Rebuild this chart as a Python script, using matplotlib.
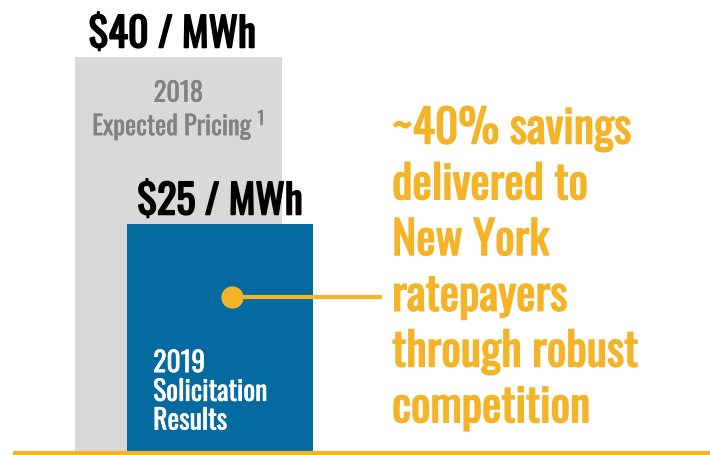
import matplotlib
matplotlib.use("Agg")
import matplotlib.pyplot as plt
import matplotlib.patheffects as pe

# data
labels = ["2018\nExpected Pricing $^1$", "2019\nSolicitation\nResults"]
prices = [40, 25]
price_labels = ["$40 / MWh", "$25 / MWh"]
callout = "~40% savings\ndelivered to\nNew York\nratepayers\nthrough robust\ncompetition"

plt.rcParams["font.family"] = ["Oswald", "DejaVu Sans"]
plt.rcParams["mathtext.fontset"] = "custom"
plt.rcParams["mathtext.rm"] = "Oswald"

GRAY = "#d9d9d9"
BLUE = "#046a9f"
ORANGE = "#f5b428"


def heavy(color, lw):
    # Oswald only ships one weight here, so thicken strokes a little
    return [pe.withStroke(linewidth=lw, foreground=color)]


fig = plt.figure(figsize=(7.1, 4.56), dpi=100)
ax = fig.add_axes([0, 4 / 456, 1, 452 / 456])
ax.set_xlim(-4.30, 12.81)
ax.set_ylim(4.6, 45.2)
ax.axis("off")

x = [0, 1]
widths = [4.99, 4.48]
cols = [GRAY, BLUE]
for xi, p, w, c in zip(x, prices, widths, cols):
    ax.bar(xi, p, width=w, color=c, zorder=2)

# price labels above bars
ax.text(x[0] - 0.15, prices[0] + 0.85, price_labels[0], ha="center", va="baseline",
        fontsize=29, color="black", path_effects=heavy("black", 1.2))
ax.text(x[1], prices[1] + 0.85, price_labels[1], ha="center", va="baseline",
        fontsize=29, color="black", zorder=3, path_effects=heavy("black", 1.2))

# bar labels
ax.text(x[0], 35.15, labels[0], ha="center", va="center", fontsize=19,
        color="#828282", linespacing=1.02, path_effects=heavy("#828282", 0.3))
ax.text(x[1] - 1.61, 6.07, labels[1], ha="left", va="bottom", fontsize=20,
        color="white", linespacing=1.08, zorder=3, path_effects=heavy("white", 0.4))

# callout dot + connector
ax.plot([x[1] + 0.3, 4.9], [18.4, 18.4], color=ORANGE, lw=3, zorder=3,
        solid_capstyle="butt")
ax.plot(x[1] + 0.3, 18.4, "o", color=ORANGE, ms=15, zorder=4)

ax.text(5.15, 21.0, callout, ha="left", va="center", fontsize=33,
        color=ORANGE, linespacing=1.29, path_effects=heavy(ORANGE, 1.0))

# baseline
fig.add_artist(plt.Line2D([15 / 710, 1], [2.5 / 456, 2.5 / 456], color=ORANGE, lw=3))

fig.savefig("out.png", dpi=100)
